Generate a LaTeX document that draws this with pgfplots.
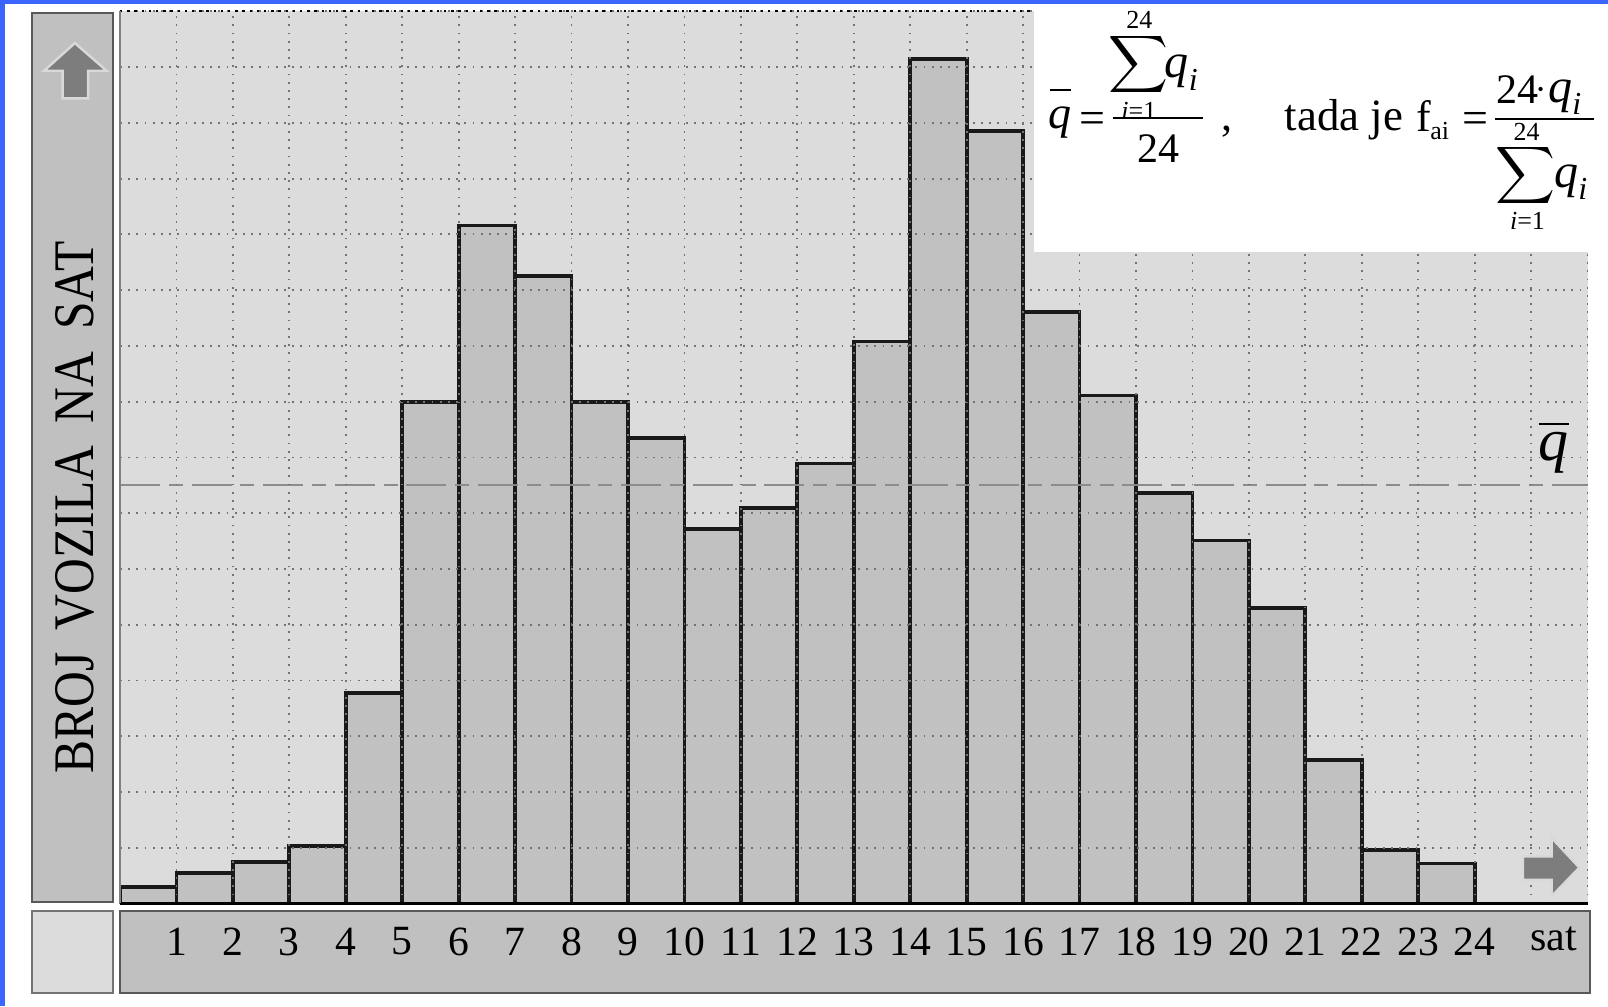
\documentclass[border=0pt]{standalone}
\usepackage{amsmath}
\usepackage{graphicx}
\usepackage{fontspec}
\setmainfont{Liberation Serif}
\usepackage{pgfplots}
\pgfplotsset{compat=1.18}
\definecolor{blueframe}{RGB}{58,102,255}
\definecolor{plotbg}{RGB}{220,220,220}
\definecolor{panel}{RGB}{192,192,192}
\definecolor{barfill}{RGB}{193,193,193}
\definecolor{arrowfill}{RGB}{125,125,125}
\newcommand\fs[1]{\fontsize{#1}{#1}\selectfont}
\newcommand\bigsum{\resizebox*{15pt}{16pt}{$\displaystyle\sum$}}

\begin{document}
\begin{tikzpicture}[x=0.2564pt,y=-0.2564pt]
\path[use as bounding box] (0,0) rectangle (1568,981);
\fill[white] (0,0) rectangle (1568,981);
\fill[blueframe] (0,0) rectangle (5,981);
\fill[blueframe] (0,0) rectangle (1568,4);
% side and bottom panels
\draw[draw=black!65, line width=0.5pt, fill=panel] (31,13) rectangle (110,880);
\draw[draw=black!55, line width=0.5pt, fill=plotbg] (31,888) rectangle (110,968);
\draw[draw=black!65, line width=0.5pt, fill=panel] (117,888) rectangle (1550,968);

\begin{axis}[
  at={(30.0pt,-225.9pt)}, anchor=south west,
  scale only axis, width=366.9pt, height=223.07pt,
  xmin=0, xmax=26, ymin=0, ymax=16,
  axis background/.style={fill=plotbg},
  axis line style={draw=none},
  axis on top,
  xtick={1,...,24},
  xticklabels={1,2,3,4,5,6,7,8,9,10,11,12,13,14,15,16,17,18,19,20,21,22,23,24},
  extra x ticks={0,25,26}, extra x tick labels={},
  extra x tick style={grid=major},
  ytick={0,...,16}, yticklabels={},
  grid=major,
  major grid style={draw=black!55, line width=0.45pt, dash pattern=on 0.45pt off 1.6pt},
  major tick length=0pt,
  xticklabel style={anchor=center, yshift=-9.5pt, font=\fontsize{10.4}{11}\selectfont},
  /pgf/number format/assume math mode=true,
]
\addplot[ybar interval, fill=barfill, draw=black!90, line width=0.95pt]
  coordinates {(0,0.29) (1,0.55) (2,0.75) (3,1.03) (4,3.77) (5,9.0) (6,12.16)
   (7,11.26) (8,9.0) (9,8.35) (10,6.71) (11,7.10) (12,7.89) (13,10.08)
   (14,15.14) (15,13.85) (16,10.61) (17,9.11) (18,7.36) (19,6.51) (20,5.30)
   (21,2.58) (22,0.96) (23,0.72) (24,0.72)};
\addplot[draw=black!45, line width=0.55pt, dash pattern=on 10pt off 2.2pt on 3.5pt off 2.2pt]
  coordinates {(0,7.5) (26,7.5)};
\end{axis}

% frame lines of the plot area
\draw[black, line width=0.7pt] (117,881) -- (1548,881);
\draw[black, line width=0.5pt, dash pattern=on 0.6pt off 1.2pt] (117,11) -- (1008,11);
\draw[black!50, line width=0.5pt] (117,11) -- (117,881);

% formula box
\fill[white] (1008,4) rectangle (1568,246);
\begin{scope}[every node/.style={inner sep=0pt}]
% left formula: q-bar = sum q_i / 24
\draw[line width=0.6pt] (1024,88) -- (1044,88);
\node[anchor=base] at (1034,125) {\fs{11.5}\textit{q}};
\node[anchor=base] at (1065,130) {\fs{11.5}=};
\draw[line width=0.55pt] (1085,115) -- (1173,115);
\node at (1111,19) {\fs{6.5}24};
\node at (1110.5,63) {\bigsum};
\node at (1110.5,108) {\fs{6.5}\textit{i}=1};
\node[anchor=base west] at (1135,76) {\fs{12}$\textit{q}_{\textit{i}}$};
\node[anchor=base] at (1129.5,158) {\fs{10.5}24};
\node[anchor=base] at (1196,127) {\fs{11},};
% text
\node[anchor=base west] at (1252,127) {\fs{11.2}tada je};
\node[anchor=base west] at (1380,128) {\fs{11}f};
\node[anchor=base west] at (1394,136) {\fs{6.5}ai};
\node[anchor=base] at (1438.5,130) {\fs{11.5}=};
% right fraction
\draw[line width=0.55pt] (1458,116) -- (1554,116);
\node[anchor=base west] at (1458,101) {\fs{10.5}24};
\node at (1503,88) {\fs{10}$\cdot$};
\node[anchor=base west] at (1509,100) {\fs{12}$\textit{q}_{\textit{i}}$};
\node at (1488.5,129) {\fs{6.5}24};
\node at (1488,171) {\bigsum};
\node at (1489.5,215) {\fs{6.5}\textit{i}=1};
\node[anchor=base west] at (1515,183) {\fs{12}$\textit{q}_{\textit{i}}$};
\end{scope}

% mean label
\node[font=\fontsize{15}{16}\selectfont] at (1515,436) {$\overline{\textit{q}}$};

% y label
\node[rotate=90, inner sep=0pt] at (73,495) {\resizebox{133pt}{9.5pt}{\fontsize{15}{15}\selectfont BROJ\hspace{0.45em}VOZILA\hspace{0.45em}NA\hspace{0.45em}SAT}};

% x unit
\node[font=\fontsize{10.5}{12}\selectfont] at (1515,916) {sat};

% arrows
\draw[draw=white!85!black, line width=0.6pt, fill=arrowfill, line join=miter]
  (73,42) -- (104,69) -- (86,69) -- (86,96) -- (61,96) -- (61,69) -- (43,69) -- cycle;
\draw[draw=white!85!black, line width=0.6pt, fill=arrowfill, line join=miter]
  (1540,846) -- (1513,874) -- (1513,858) -- (1485,858) -- (1485,835) -- (1513,835) -- (1513,817) -- cycle;
\end{tikzpicture}
\end{document}
